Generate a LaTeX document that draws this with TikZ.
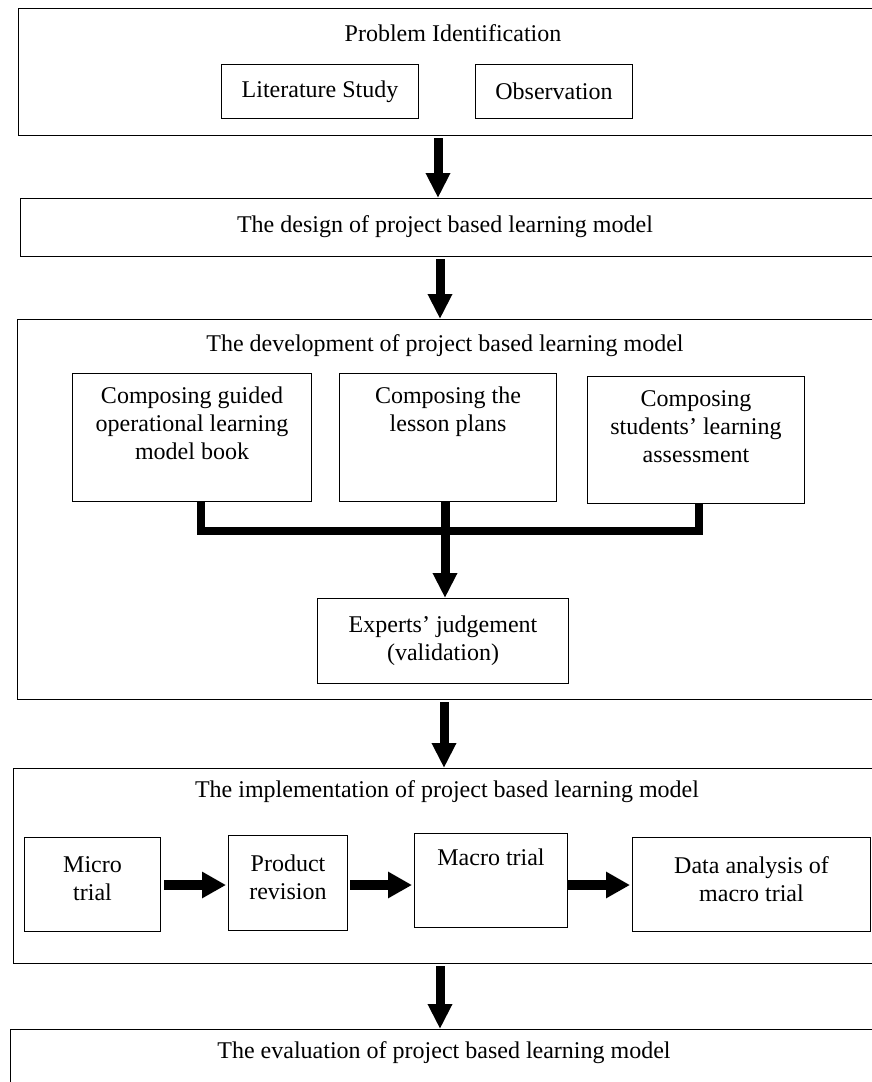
\documentclass[tikz,border=0pt]{standalone}
\usepackage{fontspec}
\setmainfont{Liberation Serif}
\usetikzlibrary{arrows.meta}
\begin{document}
\begin{tikzpicture}[x=1pt,y=-1pt,
  bigbox/.style={draw, line width=1.3pt, inner sep=0pt, anchor=north west},
  smallbox/.style={draw, line width=1pt, inner sep=0pt, anchor=north west},
  txt/.style={inner sep=0pt, align=center, font=\fontsize{24}{28}\selectfont},
  varrow/.style={line width=9pt, -{Triangle[width=23pt,length=25pt]}},
  harrow/.style={line width=10pt, -{Triangle[width=25pt,length=24pt]}},
  bar/.style={line width=8pt, line join=miter}]
\useasboundingbox (0,0) rectangle (872,1082);
\clip (0,0) rectangle (872,1082);

% boxes
\node[bigbox, minimum width=882pt, minimum height=127pt] (P1) at (18,8) {};
\node[smallbox, minimum width=197pt, minimum height=54pt] (lit) at (221,64) {};
\node[smallbox, minimum width=157pt, minimum height=54pt] (obs) at (475,64) {};
\node[bigbox, minimum width=880pt, minimum height=58pt] (P2) at (20,198) {};
\node[bigbox, minimum width=883pt, minimum height=380pt] (P3) at (17,319) {};
\node[smallbox, minimum width=239pt, minimum height=128pt] (A) at (72,373) {};
\node[smallbox, minimum width=217pt, minimum height=128pt] (B) at (339,373) {};
\node[smallbox, minimum width=217pt, minimum height=127pt] (C) at (587,376) {};
\node[smallbox, minimum width=251pt, minimum height=85pt] (E) at (317,598) {};
\node[bigbox, minimum width=887pt, minimum height=195pt] (P4) at (13,768) {};
\node[smallbox, minimum width=136pt, minimum height=94pt] (micro) at (24,837) {};
\node[smallbox, minimum width=119pt, minimum height=95pt] (product) at (228,835) {};
\node[smallbox, minimum width=153pt, minimum height=94pt] (macro) at (414,833) {};
\node[smallbox, minimum width=238pt, minimum height=94pt] (data) at (632,837) {};
\node[bigbox, minimum width=890pt, minimum height=80pt] (P5) at (10,1029) {};

% texts
\node[txt] (tP1) at (453,33) {Problem Identification};
\node[txt] at (lit.center) {Literature Study};
\node[txt] at (obs.center) {Observation};
\node[txt] (tP2) at (445,227) {The design of project based learning model};
\node[txt] (tP3) at (445,346) {The development of project based learning model};
\node[txt, anchor=north] at ([yshift=-14pt]A.north) {Composing guided\\operational learning\\model book};
\node[txt, anchor=north] at ([yshift=-14pt]B.north) {Composing the\\lesson plans};
\node[txt, anchor=north] at ([yshift=-14pt]C.north) {Composing\\students’ learning\\assessment};
\node[txt] at (E.center) {Experts’ judgement\\(validation)};
\node[txt] (tP4) at (447,792) {The implementation of project based learning model};
\node[txt] at ([yshift=6pt]micro.center) {Micro\\trial};
\node[txt] at ([yshift=6pt]product.center) {Product\\revision};
\node[txt, anchor=north] at ([yshift=-16pt]macro.north) {Macro trial};
\node[txt] at ([yshift=5pt]data.center) {Data analysis of\\macro trial};
\node[txt] (tP5) at (444,1053) {The evaluation of project based learning model};

% vertical arrows
\coordinate (x1) at (438,0);
\coordinate (x2) at (440,0);
\coordinate (x3) at (444,0);
\coordinate (x5) at (440,0);
\coordinate (xs) at (445,0);
\draw[varrow, shorten <=2pt] (P1.south -| x1) -- (P2.north -| x1);
\draw[varrow, shorten <=2pt] (P2.south -| x2) -- (P3.north -| x2);
\draw[varrow, shorten <=2pt] (P3.south -| x3) -- (P4.north -| x3);
\draw[varrow, shorten <=2pt] (P4.south -| x5) -- (P5.north -| x5);

% bracket
\coordinate (jl) at (201,531);
\coordinate (jr) at (699,531);
\draw[bar] (A.south -| jl) -- (jl) -- (jr) -- (C.south -| jr);
\draw[varrow] (B.south -| xs) -- (E.north -| xs);

% horizontal arrows
\coordinate (hy) at (0,885);
\draw[harrow, shorten <=3pt, shorten >=2pt] (micro.east |- hy) -- (product.west |- hy);
\draw[harrow, shorten <=2pt, shorten >=2pt] (product.east |- hy) -- (macro.west |- hy);
\draw[harrow, shorten <=0pt, shorten >=2pt] (macro.east |- hy) -- (data.west |- hy);
\end{tikzpicture}
\end{document}
